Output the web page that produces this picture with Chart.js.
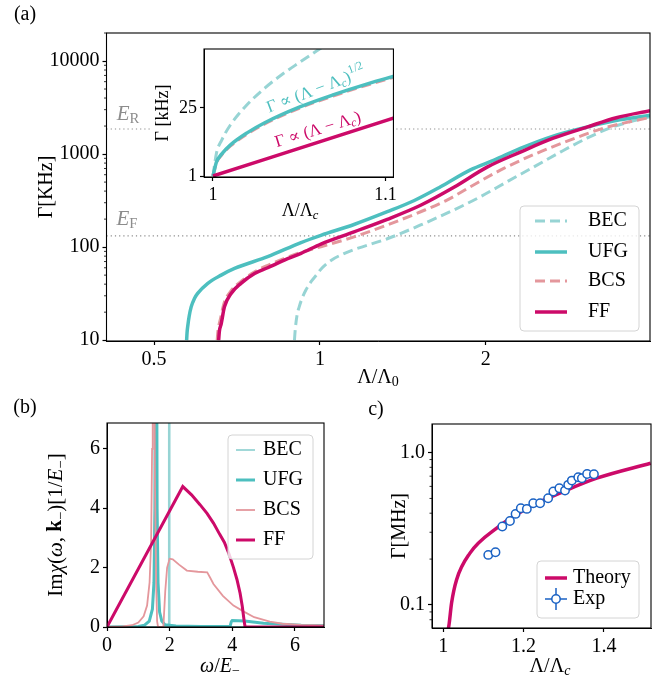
<!DOCTYPE html>
<html>
<head>
<meta charset="utf-8">
<script src="https://cdn.jsdelivr.net/npm/chart.js@4.4.0/dist/chart.umd.min.js"></script>
<style>
  body { margin: 0; background: #fff; width: 657px; height: 685px; position: relative; overflow: hidden; }
  canvas { position: absolute; }
</style>
</head>
<body>
<canvas id="chartA" width="657" height="395" style="left:0;top:0"></canvas>
<canvas id="chartInset" width="250" height="195" style="left:150px;top:30px"></canvas>
<canvas id="chartB" width="330" height="290" style="left:0;top:395px"></canvas>
<canvas id="chartC" width="327" height="290" style="left:330px;top:395px"></canvas>
<script>
// ---- panel (a): Gamma [kHz] vs Lambda/Lambda0 ----
const lamBEC = [0.899, 0.902, 0.908, 0.917, 0.93, 0.943, 0.965, 0.99, 1.004, 1.047, 1.1, 1.153, 1.325, 1.523, 1.75, 1.955, 2.18, 2.44, 2.73, 3.05, 3.40, 3.97];
const gamBEC = [10, 13, 18, 22.8, 29, 34.6, 43, 52, 58, 72, 84, 94, 123, 173, 251, 348, 500, 724, 1050, 1480, 1960, 2520];
const lamUFG = [0.573, 0.574, 0.576, 0.579, 0.584, 0.592, 0.600, 0.626, 0.662, 0.700, 0.804, 0.924, 1.004, 1.153, 1.325, 1.48, 1.655, 1.875, 2.07, 2.31, 2.65, 3.05, 3.50, 3.97];
const gamUFG = [10, 12, 14.5, 18, 22.8, 28, 31.8, 40.8, 50, 59, 79, 112, 134, 175, 240, 315, 445, 676, 861, 1150, 1560, 1950, 2330, 2620];
const lamBCS = [0.651, 0.653, 0.66, 0.67, 0.69, 0.72, 0.76, 0.80, 0.86, 0.924, 1.004, 1.153, 1.325, 1.523, 1.70, 1.875, 2.155, 2.47, 2.84, 3.26, 3.97];
const gamBCS = [10, 12.5, 17, 25, 34, 43, 54, 63, 75, 88, 101, 129, 173, 240, 320, 446, 701, 1016, 1410, 1890, 2480];
const lamFF = [0.655, 0.657, 0.662, 0.671, 0.690, 0.719, 0.761, 0.804, 0.862, 0.924, 1.004, 1.153, 1.325, 1.523, 1.75, 2.01, 2.31, 2.65, 3.05, 3.45, 3.97];
const gamFF = [10, 12.5, 15, 22.8, 31.8, 40.8, 52, 60, 72.4, 85.6, 108, 146, 199, 282, 440, 724, 1050, 1480, 1950, 2460, 2930];
const gamER = 1860;
const gamEF = 132;
const aXTicks = [0.5, 1, 2];
const aXLabels = ['0.5', '1', '2'];
const aYTicks = [10, 100, 1000, 10000];
const aYLabels = ['10', '100', '1000', '10000'];

// ---- inset: Gamma [kHz] vs Lambda/Lambda_c near threshold ----
const insLam = [1, 1.002, 1.005, 1.01, 1.02, 1.03, 1.05, 1.07, 1.09, 1.105];
const insUFG = [1, 5.9, 8.7, 11.9, 16.3, 19.8, 25.3, 29.7, 33.6, 36.2];
const insBCS = [1, 5.6, 8.4, 11.5, 15.9, 19.4, 24.9, 29.3, 33.2, 35.9];
const insLamBEC = [1, 1.002, 1.005, 1.01, 1.02, 1.03, 1.04, 1.05, 1.065];
const insBEC = [1, 9.0, 13.6, 18.9, 26.3, 32.0, 36.8, 41.0, 47.1];
const insLamFF = [1, 1.105];
const insFF = [1, 21.5];

// ---- panel (b): Im chi vs omega/E_- ----
const wBEC = [0, 1.9, 1.96, 1.975, 1.985, 2.0, 2.1, 6.93];
const chiBEC = [0, 0.01, 0.05, 20, 20, 0.05, 0.01, 0];
const wUFG = [0, 1.0, 1.2, 1.35, 1.45, 1.5, 1.53, 1.55, 1.58, 1.6, 1.63, 1.68, 1.75, 1.85, 2.2, 3.0, 3.93, 3.97, 4.0, 4.4, 5.0, 5.6, 6.2, 6.93];
const chiUFG = [0, 0.02, 0.06, 0.2, 0.6, 1.5, 4, 12, 12, 4, 1.5, 0.5, 0.2, 0.08, 0.03, 0.02, 0.02, 0.18, 0.22, 0.2, 0.13, 0.09, 0.06, 0.05];
const wBCS = [0, 0.5, 0.8, 1.0, 1.17, 1.28, 1.36, 1.41, 1.44, 1.46, 1.5, 1.53, 1.57, 1.6, 1.63, 1.8, 1.86, 1.92, 2.0, 2.1, 2.3, 2.55, 2.9, 3.2, 3.3, 3.4, 3.7, 4.04, 4.4, 4.7, 5.2, 5.6, 6.2, 6.93];
const chiBCS = [0, 0.02, 0.06, 0.15, 0.36, 0.72, 1.5, 2.9, 6, 12, 12, 5, 1.5, 0.2, 0, 0, 1.2, 2.0, 2.3, 2.28, 2.1, 1.9, 1.86, 1.84, 1.65, 1.45, 1.05, 0.72, 0.5, 0.33, 0.18, 0.11, 0.07, 0.05];
const wFF = [0, 2.42, 2.7, 2.97, 3.2, 3.4, 3.6, 3.75, 3.9, 4.04, 4.15, 4.25, 4.32, 4.38, 4.41, 6.93];
const chiFF = [0, 4.73, 4.45, 4.12, 3.82, 3.5, 3.12, 2.85, 2.45, 2.0, 1.6, 1.14, 0.7, 0.2, 0, 0];
const bTicks = [0, 2, 4, 6];
const bLabels = ['0', '2', '4', '6'];

// ---- panel (c): Gamma [MHz] vs Lambda/Lambda_c, theory and experiment ----
const lamTheory = [1.012, 1.0149, 1.0207, 1.033, 1.066, 1.133, 1.216, 1.299, 1.382, 1.516];
const gamTheory = [0.068, 0.076, 0.103, 0.146, 0.218, 0.319, 0.442, 0.555, 0.679, 0.852];
const lamExp = [1.112, 1.130, 1.147, 1.166, 1.180, 1.193, 1.208, 1.224, 1.241, 1.261, 1.274, 1.289, 1.303, 1.311, 1.320, 1.336, 1.345, 1.358, 1.375];
const gamExp = [0.213, 0.222, 0.327, 0.356, 0.396, 0.431, 0.427, 0.465, 0.465, 0.501, 0.555, 0.583, 0.563, 0.614, 0.655, 0.689, 0.679, 0.724, 0.721];
const cXTicks = [1, 1.2, 1.4];
const cXLabels = ['1', '1.2', '1.4'];
const cYTicks = [0.1, 1];
const cYLabels = ['0.1', '1.0'];

const SERIF = '"Liberation Serif", "DejaVu Serif", serif';
const C_BEC = '#97d4d4', C_UFG = '#4dbfbf', C_BCS = '#e4979c', C_FF = '#cc0a69', C_EXP = '#1a62c4';

const pts = (xs, ys) => xs.map((x, i) => ({ x, y: ys[i] }));

function rich(ctx, parts, x, y, size, opt) {
  opt = opt || {};
  const segs = parts.map(p => {
    const f = p.slice(1);
    const small = f.includes('sub') || f.includes('sup');
    const sz = small ? size * 0.7 : size;
    return {
      t: p[0],
      font: (f.includes('i') ? 'italic ' : '') + (f.includes('b') ? 'bold ' : '') + sz + 'px ' + SERIF,
      dy: f.includes('sub') ? size * 0.24 : (f.includes('sup') ? -size * 0.38 : 0)
    };
  });
  ctx.save();
  let w = 0;
  segs.forEach(s => { ctx.font = s.font; s.w = ctx.measureText(s.t).width; w += s.w; });
  ctx.translate(x, y);
  if (opt.rot) ctx.rotate(opt.rot * Math.PI / 180);
  ctx.fillStyle = opt.color || '#000';
  ctx.textBaseline = 'middle';
  ctx.textAlign = 'left';
  let cx = opt.align === 'left' ? 0 : -w / 2;
  segs.forEach(s => { ctx.font = s.font; ctx.fillText(s.t, cx, s.dy); cx += s.w; });
  ctx.restore();
}

// frame, minor ticks, legend box and rich-text labels
const deco = {
  id: 'deco',
  beforeDraw(chart, args, o) {
    if (!o.bg) return;
    const ctx = chart.ctx;
    ctx.save();
    ctx.fillStyle = '#fff';
    ctx.fillRect(o.bg[0] - o.ox, o.bg[1] - o.oy, o.bg[2] - o.bg[0], o.bg[3] - o.bg[1]);
    ctx.restore();
  },
  afterDraw(chart, args, o) {
    const ctx = chart.ctx, a = chart.chartArea;
    ctx.save();
    ctx.strokeStyle = '#000';
    if (o.minor) {
      const s = chart.scales.y;
      ctx.lineWidth = 0.8;
      o.minor.forEach(v => {
        const py = s.getPixelForValue(v);
        if (py < a.top || py > a.bottom) return;
        ctx.beginPath();
        ctx.moveTo(a.left, py);
        ctx.lineTo(a.left - 2.5, py);
        ctx.stroke();
      });
    }
    ctx.lineWidth = 1.1;
    ctx.strokeRect(a.left, a.top, a.right - a.left, a.bottom - a.top);
    ctx.restore();

    const L = o.legend;
    if (L) {
      const ox = o.ox, oy = o.oy;
      ctx.save();
      ctx.fillStyle = 'rgba(255,255,255,0.8)';
      ctx.strokeStyle = '#d4d4d4';
      ctx.lineWidth = 1;
      ctx.beginPath();
      ctx.roundRect(L.box[0] - ox, L.box[1] - oy, L.box[2] - L.box[0], L.box[3] - L.box[1], 4);
      ctx.fill();
      ctx.stroke();
      L.items.forEach(it => {
        const y = it.y - oy;
        ctx.strokeStyle = it.color;
        ctx.lineWidth = it.width;
        if (it.marker) {
          const cx = (L.x0 + L.x1) / 2 - ox;
          ctx.lineWidth = 1.5;
          ctx.beginPath();
          ctx.moveTo(L.x0 - ox, y); ctx.lineTo(L.x1 - ox, y);
          ctx.moveTo(cx, y - 11); ctx.lineTo(cx, y + 11);
          ctx.stroke();
          ctx.beginPath();
          ctx.arc(cx, y, 4.2, 0, Math.PI * 2);
          ctx.fillStyle = '#fff';
          ctx.fill();
          ctx.stroke();
        } else {
          ctx.setLineDash(it.dash || []);
          ctx.beginPath();
          ctx.moveTo(L.x0 - ox, y); ctx.lineTo(L.x1 - ox, y);
          ctx.stroke();
          ctx.setLineDash([]);
        }
        rich(ctx, [[it.label]], L.tx - ox, y, L.size, { align: 'left' });
      });
      ctx.restore();
    }
    (o.texts || []).forEach(t => rich(ctx, t.parts, t.x - o.ox, t.y - o.oy, t.size, t));
  }
};

function axis(type, min, max, ticks, labels, fit, size) {
  return {
    type, min, max,
    afterBuildTicks: s => { s.ticks = ticks.map(v => ({ value: v })); },
    afterFit: s => { if (s.isHorizontal()) s.height = fit; else s.width = fit; },
    ticks: {
      callback: (v, i) => labels[i],
      font: { family: SERIF, size: size },
      color: '#000', padding: 3, autoSkip: false, maxRotation: 0
    },
    grid: { display: true, drawOnChartArea: false, drawTicks: true, tickLength: 4, tickColor: '#000', tickWidth: 1.2 },
    border: { display: true, color: '#000', width: 1 }
  };
}

function line(data, color, width, order, dash) {
  return {
    data, borderColor: color, borderWidth: width, borderDash: dash || [],
    showLine: true, pointRadius: 0, cubicInterpolationMode: 'monotone', order
  };
}

function baseOptions(padding, scales, decoOpts) {
  return {
    responsive: false, animation: false,
    layout: { padding },
    plugins: { legend: { display: false }, tooltip: { enabled: false }, deco: decoOpts },
    scales
  };
}

const decades = (lo, hi) => {
  const out = [];
  for (let d = lo; d <= hi; d *= 10) for (let k = 2; k <= 9; k++) out.push(k * d);
  return out;
};

// panel (a)
new Chart(document.getElementById('chartA'), {
  type: 'scatter',
  plugins: [deco],
  data: {
    datasets: [
      line(pts(lamFF, gamFF), C_FF, 3.5, 0),
      line(pts(lamBCS, gamBCS), C_BCS, 3, 1, [10, 5]),
      line(pts(lamUFG, gamUFG), C_UFG, 3.5, 2),
      line(pts(lamBEC, gamBEC), C_BEC, 3, 3, [10, 5]),
      { data: [{ x: 0.41, y: gamER }, { x: 3.97, y: gamER }], borderColor: '#8c8c8c', borderWidth: 1.2, borderDash: [1.2, 3], showLine: true, pointRadius: 0, order: 5 },
      { data: [{ x: 0.41, y: gamEF }, { x: 3.97, y: gamEF }], borderColor: '#8c8c8c', borderWidth: 1.2, borderDash: [1.2, 3], showLine: true, pointRadius: 0, order: 5 }
    ]
  },
  options: baseOptions({ left: 0, top: 33, right: 7, bottom: 0 }, {
    x: axis('logarithmic', 0.41, 3.97, aXTicks, aXLabels, 54, 20),
    y: axis('logarithmic', 9.8, 20000, aYTicks, aYLabels, 106.5, 20)
  }, {
    ox: 0, oy: 0,
    minor: decades(10, 10000),
    legend: {
      box: [520, 206, 639, 331], x0: 535, x1: 567, tx: 588, size: 20,
      items: [
        { y: 221, color: C_BEC, width: 3, dash: [10, 5], label: 'BEC' },
        { y: 252, color: C_UFG, width: 3.5, label: 'UFG' },
        { y: 281, color: C_BCS, width: 3, dash: [10, 5], label: 'BCS' },
        { y: 312, color: C_FF, width: 3.5, label: 'FF' }
      ]
    },
    texts: [
      { parts: [['(a)']], x: 25, y: 15, size: 20 },
      { parts: [['Γ[KHz]']], x: 47, y: 187, size: 20, rot: -90 },
      { parts: [['Λ/Λ'], ['0', 'sub']], x: 378, y: 378, size: 20 },
      { parts: [['E', 'i'], ['R', 'sub']], x: 128, y: 114, size: 21, color: '#8c8c8c' },
      { parts: [['E', 'i'], ['F', 'sub']], x: 127, y: 219, size: 21, color: '#8c8c8c' }
    ]
  })
});

// inset
new Chart(document.getElementById('chartInset'), {
  type: 'scatter',
  plugins: [deco],
  data: {
    datasets: [
      line(pts(insLamFF, insFF), C_FF, 3.5, 0),
      line(pts(insLam, insUFG), C_UFG, 3.5, 1),
      line(pts(insLam, insBCS), C_BCS, 3, 2, [10, 5]),
      line(pts(insLamBEC, insBEC), C_BEC, 3, 3, [10, 5])
    ]
  },
  options: baseOptions({ left: 0, top: 19, right: 6, bottom: 0 }, {
    x: axis('linear', 0.9948, 1.1046, [1, 1.1], ['1', '1.1'], 48, 18),
    y: axis('linear', 0.65, 45.8, [1, 25], ['1', '25'], 54, 18)
  }, {
    ox: 150, oy: 30,
    bg: [150, 49, 394, 177],
    texts: [
      { parts: [['Γ [kHz]']], x: 163, y: 113, size: 18, rot: -90 },
      { parts: [['Λ/Λ'], ['c', 'i', 'sub']], x: 300, y: 211, size: 18 },
      { parts: [['Γ ∝ (Λ − Λ'], ['c', 'i', 'sub'], [')'], ['1/2', 'sup']], x: 316, y: 90, size: 17, rot: -21, color: C_UFG },
      { parts: [['Γ ∝ (Λ − Λ'], ['c', 'i', 'sub'], [')']], x: 318, y: 130, size: 17, rot: -17, color: C_FF }
    ]
  })
});

// panel (b)
new Chart(document.getElementById('chartB'), {
  type: 'scatter',
  plugins: [deco],
  data: {
    datasets: [
      line(pts(wFF, chiFF), C_FF, 3, 0),
      line(pts(wBCS, chiBCS), C_BCS, 1.8, 1),
      line(pts(wUFG, chiUFG), C_UFG, 3, 2),
      line(pts(wBEC, chiBEC), C_BEC, 1.8, 3)
    ].map(d => Object.assign(d, { cubicInterpolationMode: 'default', tension: 0 }))
  },
  options: baseOptions({ left: 0, top: 28, right: 6, bottom: 0 }, {
    x: axis('linear', 0, 6.93, bTicks, bLabels, 58, 20),
    y: axis('linear', 0, 6.87, bTicks, bLabels, 107, 20)
  }, {
    ox: 0, oy: 395,
    legend: {
      box: [228, 435, 313, 559], x0: 236, x1: 255, tx: 263, size: 20,
      items: [
        { y: 450, color: C_BEC, width: 1.8, label: 'BEC' },
        { y: 480, color: C_UFG, width: 3, label: 'UFG' },
        { y: 510, color: C_BCS, width: 1.8, label: 'BCS' },
        { y: 540, color: C_FF, width: 3, label: 'FF' }
      ]
    },
    texts: [
      { parts: [['(b)']], x: 25, y: 408, size: 20 },
      { parts: [['Im'], ['χ', 'i'], ['('], ['ω', 'i'], [', '], ['k', 'b'], ['−', 'sub'], [')[1/'], ['E', 'i'], ['−', 'sub'], [']']], x: 56, y: 525, size: 21, rot: -90 },
      { parts: [['ω', 'i'], ['/'], ['E', 'i'], ['−', 'sub']], x: 220, y: 667, size: 20 }
    ]
  })
});

// panel (c)
new Chart(document.getElementById('chartC'), {
  type: 'scatter',
  plugins: [deco],
  data: {
    datasets: [
      { data: pts(lamExp, gamExp), showLine: false, pointRadius: 4.2, borderWidth: 1.5, borderColor: C_EXP, backgroundColor: '#fff', order: 0 },
      line(pts(lamTheory, gamTheory), C_FF, 3.5, 1)
    ]
  },
  options: baseOptions({ left: 0, top: 29, right: 6, bottom: 0 }, {
    x: axis('linear', 0.972, 1.517, cXTicks, cXLabels, 57, 20),
    y: axis('logarithmic', 0.0706, 1.54, cYTicks, cYLabels, 102, 20)
  }, {
    ox: 330, oy: 395,
    minor: [0.08, 0.09, 0.2, 0.3, 0.4, 0.5, 0.6, 0.7, 0.8, 0.9],
    legend: {
      box: [537, 561, 639, 618], x0: 545, x1: 567, tx: 573, size: 20,
      items: [
        { y: 578, color: C_FF, width: 3.5, label: 'Theory' },
        { y: 599, color: C_EXP, width: 1.5, label: 'Exp', marker: true }
      ]
    },
    texts: [
      { parts: [['c)']], x: 376, y: 410, size: 20 },
      { parts: [['Γ[MHz]']], x: 400, y: 526, size: 20, rot: -90 },
      { parts: [['Λ/Λ'], ['c', 'i', 'sub']], x: 550, y: 667, size: 20 }
    ]
  })
});
</script>
</body>
</html>
